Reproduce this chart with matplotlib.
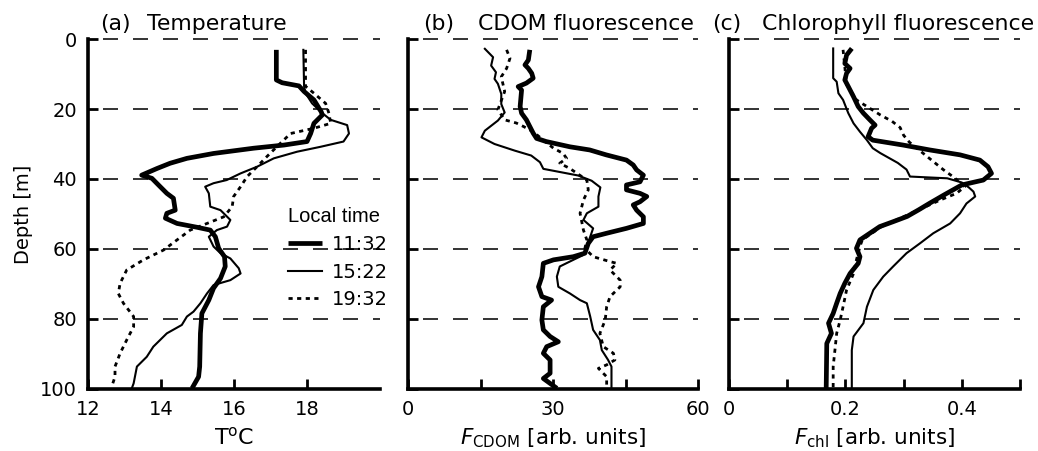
import matplotlib
matplotlib.use("Agg")
import matplotlib.pyplot as plt

plt.rcParams['font.family'] = 'DejaVu Sans'
plt.rcParams['lines.scale_dashes'] = False

# ---- data (depth in m) ----
times = ["11:32", "15:22", "19:32"]

temp_depth_1132 = [3.1, 11.7, 12.5, 13.4, 15.0, 17.4, 20.8, 21.7, 24.1, 27.0, 29.3, 30.3, 31.2, 32.7,
                   34.1, 35.5, 37.0, 38.9, 39.8, 41.7, 44.1, 45.5, 48.9, 49.8, 51.2, 52.7, 53.8, 54.6,
                   56.5, 59.8, 62.2, 65.0, 68.4, 71.2, 74.6, 78.4, 84.1, 93.6, 96.5, 99.8]
temp_1132 = [17.16, 17.16, 17.32, 17.78, 17.92, 18.19, 18.39, 18.42, 18.19, 18.10, 18.0, 17.37, 16.54, 15.44,
             14.71, 14.25, 13.89, 13.47, 13.75, 13.93, 14.16, 14.34, 14.39, 14.16, 14.12, 14.44, 14.99, 15.35,
             15.49, 15.58, 15.74, 15.76, 15.63, 15.44, 15.31, 15.12, 15.08, 15.06, 15.03, 14.85]

temp_depth_1522 = [3.1, 13.5, 15.5, 18.4, 21.2, 23.1, 24.6, 27.0, 29.3, 30.8, 32.2, 34.1, 36.5, 38.4,
                   40.3, 41.2, 42.2, 44.1, 47.9, 48.9, 51.7, 53.6, 54.6, 56.5, 59.3, 61.2, 62.7, 65.5,
                   67.0, 68.9, 70.3, 72.7, 75.5, 77.9, 79.3, 81.7, 84.1, 87.9, 90.8, 93.6, 98.4, 99.8]
temp_1522 = [17.9, 17.92, 17.96, 18.14, 18.42, 18.65, 19.1, 19.15, 19.0, 18.37, 17.73, 17.09, 16.63, 16.18,
             15.8, 15.44, 15.21, 15.31, 15.35, 15.63, 15.9, 15.81, 15.53, 15.31, 15.44, 15.63, 15.9, 16.13,
             16.18, 15.9, 15.44, 15.26, 15.08, 14.89, 14.71, 14.57, 14.16, 13.79, 13.61, 13.34, 13.25, 13.2]

temp_depth_1932 = [3.1, 13.5, 15.5, 18.4, 21.2, 24.1, 25.5, 27.0, 29.8, 33.6, 36.5, 39.3, 42.2, 45.0,
                   47.9, 50.8, 52.7, 54.6, 57.4, 60.3, 63.1, 66.0, 69.8, 72.7, 75.5, 79.3, 82.2, 86.0,
                   89.8, 93.6, 96.5, 99.3]
temp_1932 = [17.96, 17.96, 18.19, 18.51, 18.6, 18.65, 18.19, 17.55, 17.27, 16.9, 16.63, 16.36, 16.18, 15.99,
             15.95, 15.72, 15.26, 14.8, 14.44, 14.07, 13.52, 13.06, 12.88, 12.83, 12.97, 13.25, 13.25, 13.06,
             12.88, 12.74, 12.74, 12.65]

cdom_depth_1132 = [3.1, 6.0, 7.4, 8.4, 9.8, 11.2, 12.6, 13.6, 14.6, 19.3, 21.2, 23.1, 25.0, 26.9, 28.4,
                   29.3, 30.8, 31.7, 33.1, 34.6, 36.0, 37.4, 38.9, 40.8, 41.7, 43.1, 44.1, 45.0, 46.5,
                   47.4, 48.9, 50.8, 52.7, 54.1, 55.5, 56.5, 58.4, 61.2, 62.2, 63.1, 64.1, 67.9, 70.8,
                   73.6, 74.6, 76.5, 80.3, 83.1, 85.0, 86.5, 87.9, 89.8, 91.7, 95.5, 97.0, 98.4, 99.8]
cdom_1132 = [25.2, 24.9, 24.2, 24.9, 25.6, 25.9, 24.5, 22.8, 23.5, 23.2, 23.5, 24.5, 25.2, 25.9, 26.6,
             28.6, 33.5, 37.6, 41.0, 45.2, 46.6, 47.3, 48.7, 48.0, 45.2, 45.2, 48.0, 49.4, 48.0,
             46.6, 47.3, 48.7, 48.7, 45.2, 41.1, 38.3, 37.3, 36.6, 34.2, 30.1, 28.0, 27.7, 27.0,
             27.7, 29.7, 28.0, 27.7, 28.0, 29.4, 31.1, 28.7, 28.0, 29.4, 29.4, 28.0, 29.4, 30.8]

cdom_depth_1522 = [2.8, 5.2, 7.6, 9.5, 11.4, 12.8, 15.7, 18.6, 21.0, 23.3, 26.2, 28.1, 30.0, 31.9, 33.3,
                   35.2, 37.1, 38.1, 39.0, 40.5, 42.4, 45.0, 47.9, 49.8, 51.7, 54.1, 56.5,
                   59.3, 61.7, 63.1, 65.0, 67.9, 70.8, 72.7, 74.6, 75.5, 79.3, 83.1, 86.0, 88.9, 91.7,
                   93.6, 99.8]
cdom_1522 = [15.9, 17.6, 17.2, 18.2, 17.9, 18.6, 19.3, 19.3, 20.0, 18.6, 15.9, 15.2, 17.9, 22.1, 25.5,
             27.3, 28.0, 31.8, 35.2, 38.0, 39.8, 39.4, 39.4, 37.0, 36.3, 38.3, 37.7,
             37.0, 36.3, 34.2, 31.4, 30.8, 31.1, 33.5, 35.6, 37.0, 37.7, 38.3, 39.7, 40.1, 41.4,
             42.1, 42.1]

cdom_depth_1932 = [3.1, 5.5, 8.4, 10.8, 15.0, 20.2, 23.1, 24.0, 25.0, 26.5, 28.9, 31.2, 32.7,
                   34.1, 35.5, 37.0, 40.3, 43.1, 46.0, 49.8, 54.6, 57.4, 59.8, 62.2, 63.6, 64.1, 66.0,
                   68.9, 70.8, 73.6, 76.5, 80.3, 84.1, 87.9, 89.8, 91.7, 93.1, 94.1, 96.5, 99.3]
cdom_1932 = [20.4, 21.1, 20.4, 19.3, 20.0, 18.6, 20.0, 22.4, 23.9, 25.9, 28.0, 30.1, 32.1,
             32.8, 31.4, 33.5, 37.0, 37.3, 36.3, 35.6, 36.3, 37.0, 36.6, 38.3, 41.8, 43.2, 41.8,
             43.9, 43.9, 41.8, 41.1, 40.8, 39.7, 40.4, 42.5, 42.8, 41.1, 39.4, 41.1, 41.1]

chl_depth_1132 = [2.7, 4.6, 7.0, 8.4, 9.8, 11.7, 13.6, 16.5, 19.3, 21.2, 23.1, 24.6, 25.5, 27.9, 28.9,
                  30.3, 31.7, 33.1, 34.6, 36.5, 38.4, 40.3, 41.7, 43.1, 44.5, 46.9, 48.8, 50.7, 52.2,
                  53.6, 55.5, 57.4, 59.8, 62.2, 64.1, 67.0, 69.8, 72.7, 75.5, 78.4, 81.2, 84.1, 87.0, 99.8]
chl_1132 = [0.211, 0.202, 0.199, 0.208, 0.202, 0.199, 0.205, 0.214, 0.222, 0.231, 0.242, 0.251, 0.245, 0.239, 0.247,
            0.299, 0.345, 0.397, 0.431, 0.445, 0.451, 0.437, 0.400, 0.385, 0.370, 0.345, 0.326, 0.306, 0.282,
            0.259, 0.242, 0.225, 0.219, 0.225, 0.222, 0.208, 0.199, 0.191, 0.185, 0.179, 0.171, 0.176, 0.168, 0.167]

chl_depth_1522 = [2.7, 11.2, 12.2, 15.5, 17.4, 21.2, 24.1, 26.5, 28.9, 31.2, 32.6, 35.4, 37.3, 39.3, 39.8,
                  41.0, 42.4, 43.6, 45.0, 47.0, 49.8, 52.7, 55.5, 58.4, 61.2, 65.0, 67.9, 71.7, 76.5,
                  81.2, 85.0, 88.9, 99.8]
chl_1522 = [0.179, 0.179, 0.185, 0.188, 0.196, 0.205, 0.214, 0.225, 0.237, 0.247, 0.260, 0.290, 0.305, 0.311, 0.375,
            0.400, 0.412, 0.420, 0.423, 0.408, 0.397, 0.380, 0.351, 0.328, 0.305, 0.282, 0.265, 0.248, 0.237,
            0.231, 0.214, 0.211, 0.211]

chl_depth_1932 = [3.1, 8.0, 13.0, 17.4, 21.7, 23.5, 25.3, 27.5, 29.5, 31.5, 34.2, 37.3, 39.6, 42.2, 44.1, 46.0,
                  49.8, 53.6, 57.4, 59.3, 63.1, 67.0, 71.7, 76.5, 80.3, 84.1, 88.9, 93.6, 99.8]
chl_1932 = [0.196, 0.199, 0.202, 0.219, 0.260, 0.280, 0.294, 0.300, 0.310, 0.325, 0.345, 0.368, 0.387, 0.405, 0.391, 0.363,
            0.313, 0.262, 0.229, 0.225, 0.219, 0.214, 0.202, 0.196, 0.191, 0.185, 0.182, 0.179, 0.179]

depth_ticks = [0, 20, 40, 60, 80, 100]
grid_depths = [0, 20, 40, 60, 80]

temp_ticks = [12, 14, 16, 18]
temp_ticklabels = ["12", "14", "16", "18"]
cdom_ticks = [0, 15, 30, 45, 60]
cdom_ticklabels = ["0", "", "30", "", "60"]
chl_ticks = [0, 0.1, 0.2, 0.3, 0.4, 0.5]
chl_ticklabels = ["0", "", "0.2", "", "0.4", ""]

# line styles per local time
styles = [dict(lw=3.4, ls='-', color='black', solid_capstyle='butt'),
          dict(lw=1.5, ls='-', color='black'),
          dict(lw=2.0, ls=(0, (3.0, 3.2)), color='black')]

fig = plt.figure(figsize=(10.38, 4.51), dpi=100)
W, H = 1038, 451
lefts = [88, 408, 729]
widths = [292, 290, 291]
axes = [fig.add_axes([l / W, 62 / H, w / W, 350 / H]) for l, w in zip(lefts, widths)]
ax_a, ax_b, ax_c = axes

panels = [
    (ax_a, [(temp_1132, temp_depth_1132), (temp_1522, temp_depth_1522), (temp_1932, temp_depth_1932)]),
    (ax_b, [(cdom_1132, cdom_depth_1132), (cdom_1522, cdom_depth_1522), (cdom_1932, cdom_depth_1932)]),
    (ax_c, [(chl_1132, chl_depth_1132), (chl_1522, chl_depth_1522), (chl_1932, chl_depth_1932)]),
]

for ax, series in panels:
    for d in grid_depths:
        ax.axhline(d, color='0.1', lw=1.25, ls=(10.8, (10.8, 10.8)), zorder=1, clip_on=False)
    for (x, y), st, t in zip(series, styles, times):
        ax.plot(x, y, label=t, zorder=3, **st)
    ax.set_ylim(100, 0)
    ax.set_yticks(depth_ticks)
    for s in ['top', 'right']:
        ax.spines[s].set_visible(False)
    for s in ['left', 'bottom']:
        ax.spines[s].set_linewidth(2.6)
    ax.tick_params(direction='in', length=7, width=2, labelsize=14, pad=8)

ax_a.set_xlim(12, 20)
ax_a.set_xticks(temp_ticks)
ax_a.set_xticklabels(temp_ticklabels)
ax_a.set_ylabel('Depth [m]', fontsize=14, labelpad=5)
ax_a.set_xlabel(r'T$^{\mathrm{o}}$C', fontsize=16, labelpad=5)

ax_b.set_xlim(0, 60)
ax_b.set_xticks(cdom_ticks)
ax_b.set_xticklabels(cdom_ticklabels)
ax_b.set_yticklabels([])
ax_b.set_xlabel(r'$F_{\mathrm{CDOM}}$ [arb. units]', fontsize=15.5, labelpad=5)

ax_c.set_xlim(0, 0.5)
ax_c.set_xticks(chl_ticks)
ax_c.set_xticklabels(chl_ticklabels)
ax_c.set_yticklabels([])
ax_c.set_xlabel(r'$F_{\mathrm{chl}}$ [arb. units]', fontsize=15.5, labelpad=5)

# panel titles
titles = [("(a)", "Temperature", 100, 147),
          ("(b)", "CDOM fluorescence", 423, 478),
          ("(c)", "Chlorophyll fluorescence", 712, 762)]
for tag, name, x1, x2 in titles:
    fig.text(x1 / W, 1 - 30 / H, tag, fontsize=15.8, va='baseline', ha='left')
    fig.text(x2 / W, 1 - 30 / H, name, fontsize=15.8, va='baseline', ha='left')

leg = ax_a.legend(loc='upper left', bbox_to_anchor=(0.685, 0.52), frameon=False,
                  title='Local time', fontsize=14, handlelength=1.75, handletextpad=0.5,
                  labelspacing=0.45, borderpad=0, borderaxespad=0,
                  title_fontproperties={'family': 'Liberation Sans', 'size': 14.5})
leg._legend_box.align = 'left'

fig.savefig('out.png', dpi=100)
